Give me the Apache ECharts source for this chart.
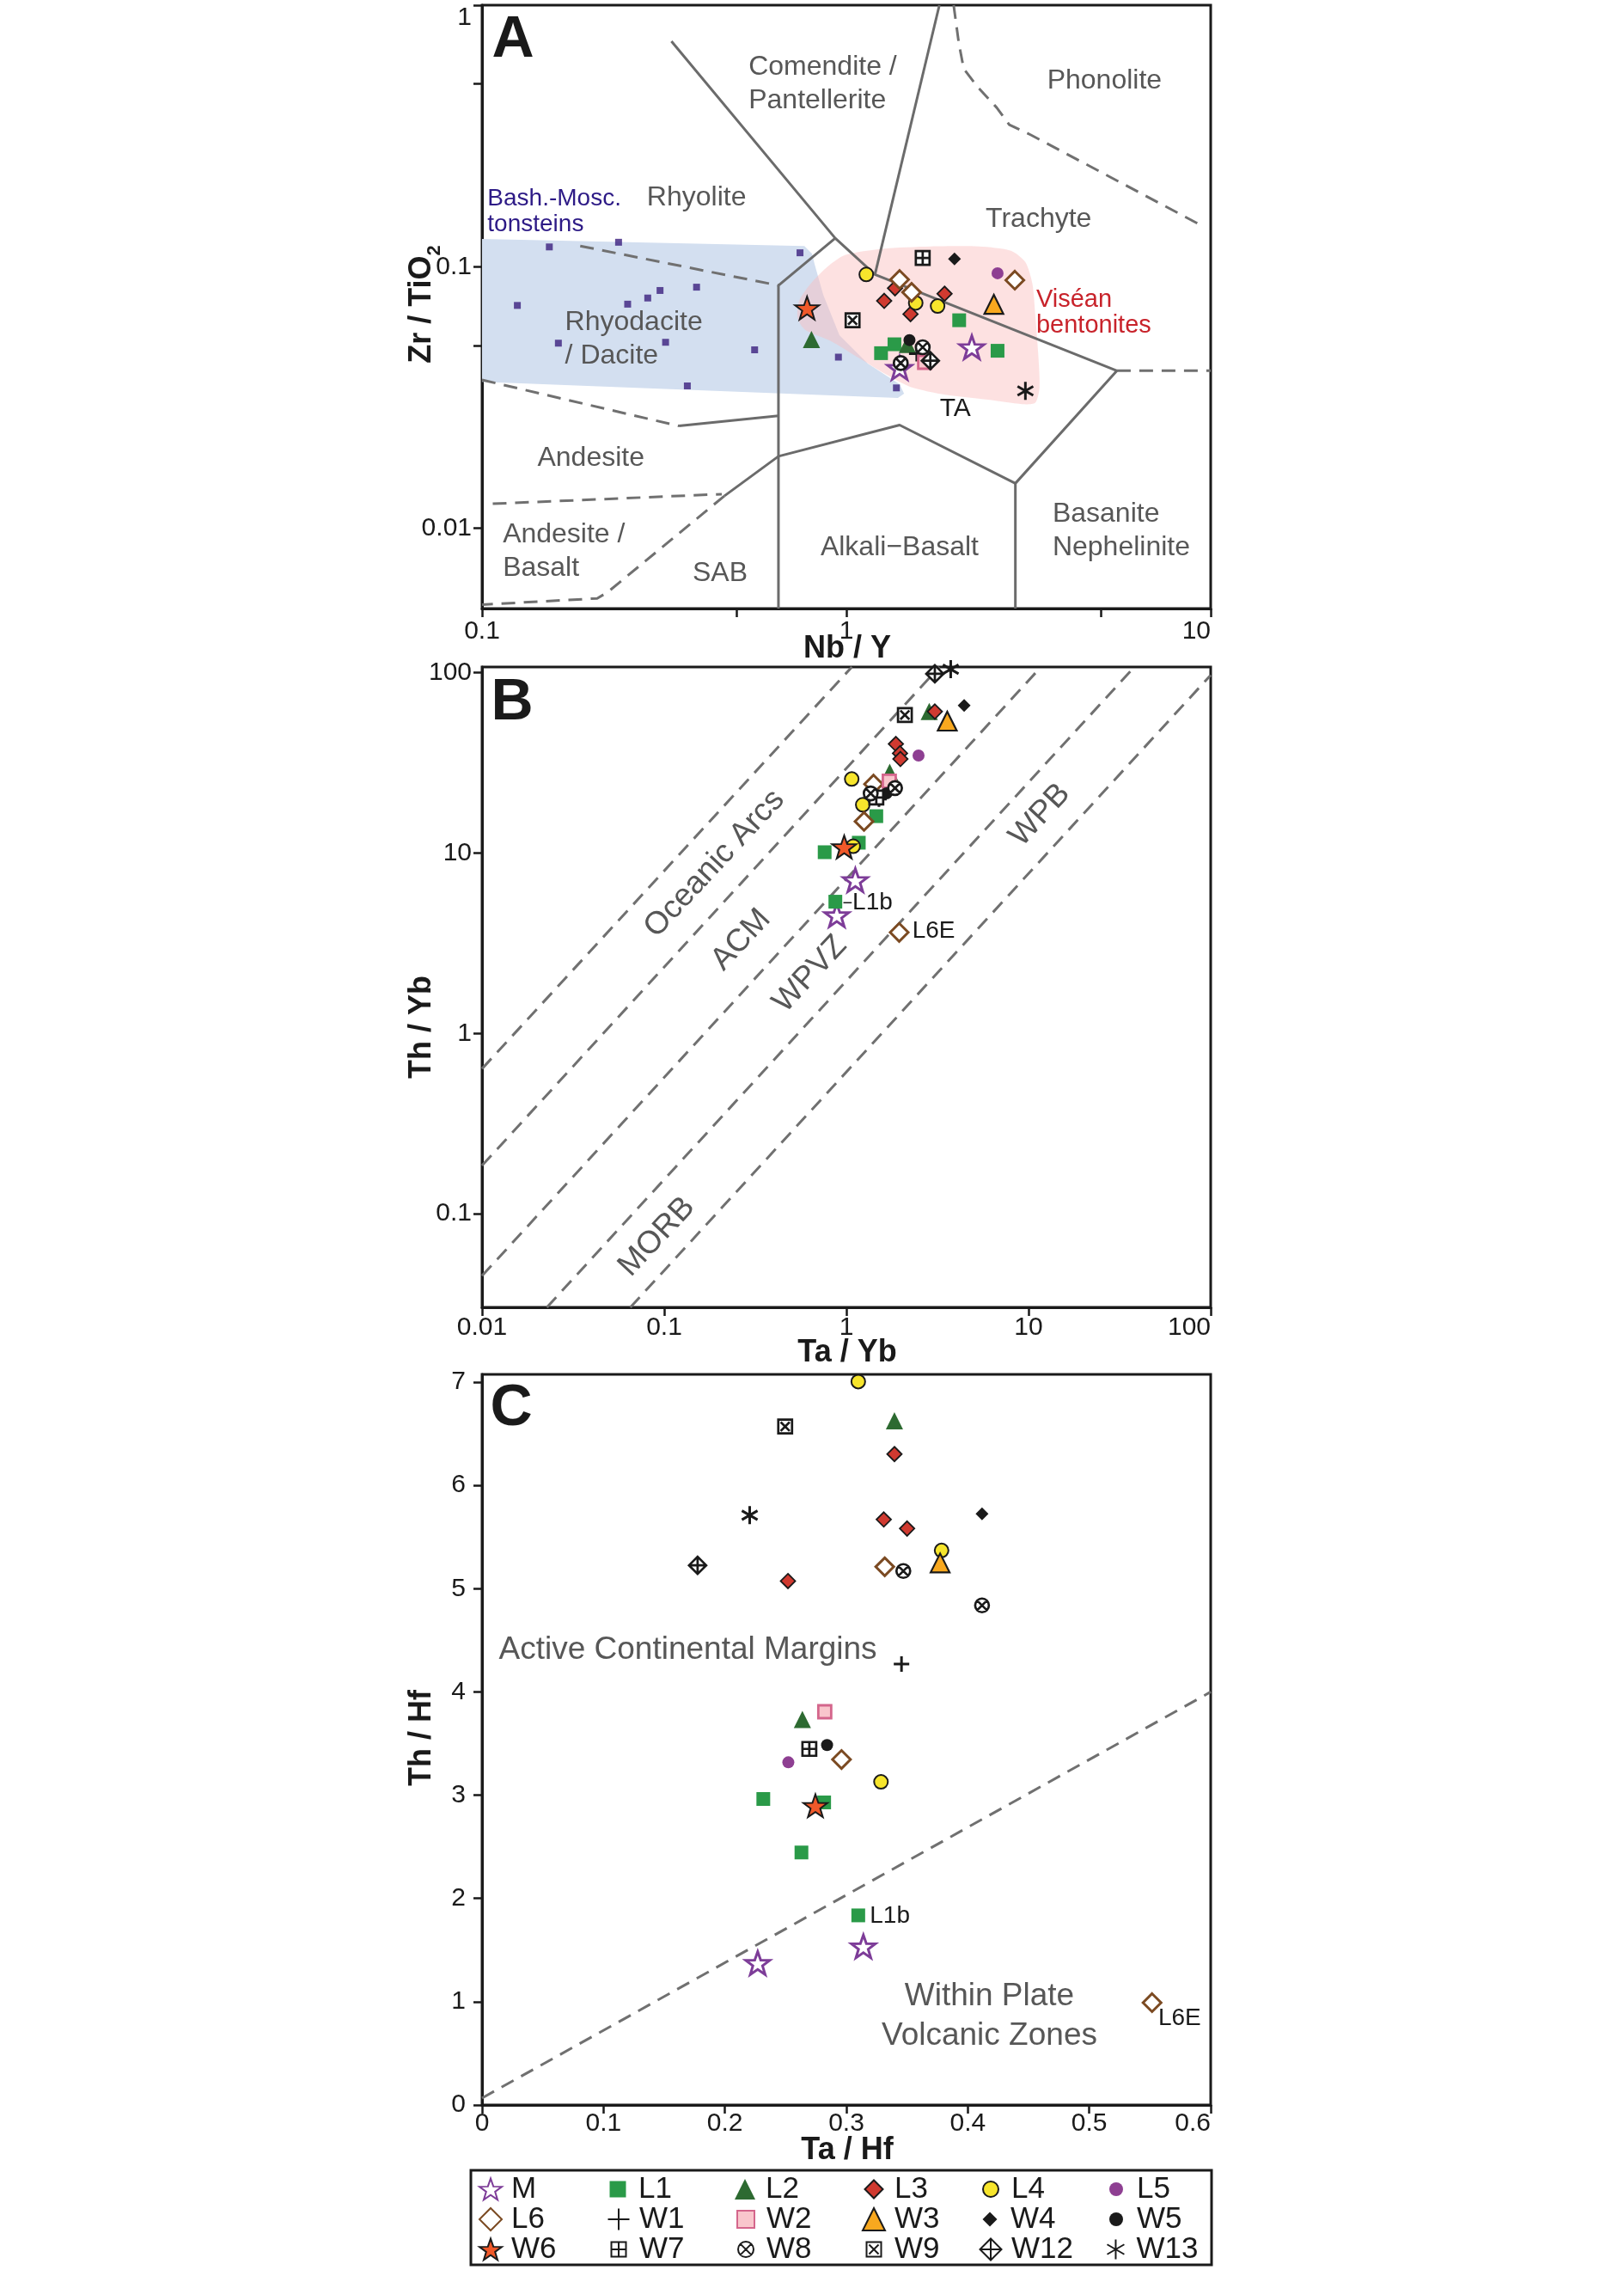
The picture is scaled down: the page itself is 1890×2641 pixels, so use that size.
<!DOCTYPE html>
<html>
<head>
<meta charset="utf-8">
<title>Nb/Y – Zr/TiO2, Ta/Yb – Th/Yb and Ta/Hf – Th/Hf diagrams</title>
<script src="https://cdn.jsdelivr.net/npm/echarts@6/dist/echarts.min.js"></script>
<style>
  html, body { margin: 0; padding: 0; background: #fff; }
  #chart { width: 1890px; height: 2641px; }
</style>
</head>
<body>
<div id="chart"></div>
<script>
// ---- sample groups, each as [panel A (Nb/Y, Zr/TiO2), panel B (Ta/Yb, Th/Yb), panel C (Ta/Hf, Th/Hf)]
const groupNames = ['M', 'L1', 'L2', 'L3', 'L4', 'L5', 'L6', 'W1', 'W2', 'W3', 'W4', 'W5', 'W6', 'W7', 'W8', 'W9', 'W12', 'W13'];

const ptsM  = [[[1.40, 0.0410], [2.21, 0.0492]], [[1.12, 7.07], [0.886, 4.52]], [[0.314, 1.535], [0.227, 1.374]]];
const ptsL1 = [[[2.04, 0.0624], [1.355, 0.0505], [1.245, 0.0467], [2.60, 0.0477]],
               [[1.46, 16.0], [1.17, 11.4], [0.76, 10.1], [0.87, 5.37]],
               [[0.2316, 2.963], [0.2817, 2.930], [0.263, 2.445], [0.3098, 1.836]]];
const ptsL2 = [[[0.802, 0.0527], [1.47, 0.0504]], [[2.85, 60.8], [1.73, 28.0]], [[0.3396, 6.626], [0.2638, 3.734]]];
const ptsL3 = [[[1.36, 0.0827], [1.27, 0.0740], [1.86, 0.0788], [1.50, 0.0659]],
               [[3.06, 60.8], [1.87, 40.2], [1.97, 35.7], [1.98, 33.2]],
               [[0.3396, 6.303], [0.3308, 5.670], [0.350, 5.582], [0.2519, 5.074]]];
const ptsL4 = [[[1.134, 0.0934], [1.55, 0.0727], [1.78, 0.0707]], [[1.07, 25.7], [1.23, 18.5], [1.09, 10.9]],
               [[0.3098, 7.005], [0.3784, 5.370], [0.3285, 3.129]]];
const ptsL5 = [[[2.60, 0.0944]], [[2.49, 34.7]], [[0.2522, 3.318]]];
const ptsL6 = [[[1.40, 0.0893], [1.51, 0.0798], [2.90, 0.0888]], [[1.41, 24.1], [1.25, 14.96], [1.95, 3.63]],
               [[0.3316, 5.212], [0.296, 3.346], [0.5517, 0.991]]];
const ptsW1  = [[[1.56, 0.0465]], [[1.51, 19.9]], [[0.3454, 4.270]]];
const ptsW2  = [[[1.64, 0.0431]], [[1.72, 25.0]], [[0.2822, 3.808]]];
const ptsW3  = [[[2.54, 0.0718]], [[3.58, 53.8]], [[0.3772, 5.249]]];
const ptsW4  = [[[1.98, 0.107]], [[4.43, 65.8]], [[0.4117, 5.725]]];
const ptsW5  = [[[1.49, 0.0524]], [[1.66, 21.4]], [[0.2841, 3.485]]];
const ptsW6  = [[[0.780, 0.0695]], [[0.973, 10.8]], [[0.2745, 2.898]]];
const ptsW7  = [[[1.62, 0.108]], [[1.46, 20.3]], [[0.2695, 3.448]]];
const ptsW8  = [[[1.62, 0.0492], [1.41, 0.0428]], [[1.85, 22.9], [1.36, 21.4]], [[0.3469, 5.171], [0.4117, 4.838]]];
const ptsW9  = [[[1.04, 0.0624]], [[2.095, 58.2]], [[0.2496, 6.570]]];
const ptsW12 = [[[1.70, 0.0437]], [[3.06, 98.5]], [[0.1775, 5.226]]];
const ptsW13 = [[[3.10, 0.0335]], [[3.74, 104.4]], [[0.2204, 5.711]]];

const groupPoints = [ptsM, ptsL1, ptsL2, ptsL3, ptsL4, ptsL5, ptsL6, ptsW1, ptsW2, ptsW3,
                     ptsW4, ptsW5, ptsW6, ptsW7, ptsW8, ptsW9, ptsW12, ptsW13];

// Bashkirian-Moscovian tonsteins (panel A only)
const tonsteinsA = [[0.153, 0.119], [0.237, 0.124], [0.746, 0.113], [0.125, 0.0711], [0.251, 0.0719],
                    [0.285, 0.0759], [0.308, 0.0811], [0.388, 0.0835], [0.162, 0.0510], [0.319, 0.0514],
                    [0.560, 0.0481], [0.951, 0.0451], [0.366, 0.0350], [1.372, 0.0344]];

// ---- field boundaries (data units)
const blueArea = [[0.1, 0.1276], [0.767, 0.120], [0.805, 0.112], [0.818, 0.1024], [0.864, 0.078], [0.957, 0.0547],
                  [1.145, 0.0426], [1.40, 0.0355], [1.44, 0.0327], [1.385, 0.0315], [0.1, 0.0363]];
const pinkArea = [[0.991, 0.1108], [1.254, 0.1171], [1.705, 0.1195], [2.319, 0.1195], [2.83, 0.1150], [3.10, 0.1040],
                  [3.24, 0.0861], [3.30, 0.0652], [3.36, 0.0470], [3.39, 0.0347], [3.30, 0.0302], [3.04, 0.0298],
                  [2.45, 0.0310], [1.87, 0.0324], [1.50, 0.0347], [1.30, 0.0384], [1.085, 0.0447], [0.906, 0.0520],
                  [0.769, 0.0575], [0.735, 0.0636], [0.742, 0.0740], [0.798, 0.0861], [0.889, 0.1002]];

const aSolid = [
  [[0.331, 0.728], [0.932, 0.1285], [1.198, 0.0933], [5.53, 0.040]],
  [[0.932, 0.1285], [0.651, 0.0848], [0.651, 0.00493]],
  [[1.80, 1.0], [1.198, 0.0933]],
  [[5.53, 0.040], [2.91, 0.01484], [2.91, 0.00493]],
  [[2.91, 0.01484], [1.40, 0.0248], [0.651, 0.01884], [0.463, 0.0133]],
  [[0.347, 0.0246], [0.651, 0.0269]]
];
const aDashed = [
  [[0.186, 0.120], [0.651, 0.0848]],
  [[5.53, 0.040], [10, 0.040]],
  [[1.97, 1.0], [2.035, 0.717], [2.10, 0.571], [2.28, 0.491], [2.585, 0.406], [2.80, 0.349], [3.21, 0.319], [9.41, 0.144]],
  [[0.1, 0.0369], [0.347, 0.0246]],
  [[0.107, 0.0124], [0.455, 0.0135]],
  [[0.463, 0.0133], [0.221, 0.00569], [0.207, 0.00539], [0.1, 0.0051]]
];
const bDashed = [
  [[0.01, 0.637], [1.072, 107.4]],
  [[0.01, 0.185], [3.24, 107.4]],
  [[0.01, 0.0453], [11.7, 107.4]],
  [[0.0227, 0.0303], [38.1, 107.4]],
  [[0.0652, 0.0303], [100, 96.8]]
];
const cDashed = [[[0, 0.067], [0.6, 4.0]]];
const bLeader = [[0.963, 5.3], [1.07, 5.3]];

// ---- tick values
const aXTicks = [0.1, 0.5, 1, 5, 10], aXLabels = [0.1, 1, 10];
const aYTicks = [0.01, 0.05, 0.1, 0.5, 1], aYLabels = [0.01, 0.1, 1];
const bXTicks = [0.01, 0.1, 1, 10, 100];
const bYTicks = [0.1, 1, 10, 100];
const cXTicks = [0, 0.1, 0.2, 0.3, 0.4, 0.5, 0.6];
const cYTicks = [0, 1, 2, 3, 4, 5, 6, 7];

// ---- field names [x, y, text, align]
const fieldsA = [
  [0.539, 0.498, 'Comendite /\nPantellerite', 'left'],
  [5.11, 0.514, 'Phonolite', 'center'],
  [0.388, 0.1835, 'Rhyolite', 'center'],
  [3.37, 0.152, 'Trachyte', 'center'],
  [0.169, 0.0526, 'Rhyodacite\n/ Dacite', 'left'],
  [0.199, 0.0185, 'Andesite', 'center'],
  [0.114, 0.00813, 'Andesite /\nBasalt', 'left'],
  [0.45, 0.00673, 'SAB', 'center'],
  [1.40, 0.0084, 'Alkali\u2212Basalt', 'center'],
  [3.68, 0.0098, 'Basanite\nNephelinite', 'left']
];
const taLabel = [[1.99, 0.0285, 'TA', 'center']];
const tonsteinLabel = [[0.1035, 0.1617, 'Bash.-Mosc.\ntonsteins', 'left']];
const bentoniteLabel = [[3.32, 0.0668, 'Vis\u00e9an\nbentonites', 'left']];
const fieldsB = [
  [0.189, 8.72, 'Oceanic Arcs'], [0.2645, 3.30, 'ACM'], [0.632, 2.13, 'WPVZ'],
  [11.56, 16.2, 'WPB'], [0.0911, 0.0745, 'MORB']
];
const tagsB = [[1.08, 5.27, 'L1b', 'left'], [2.3, 3.67, 'L6E', 'left']];
const fieldsC = [
  [0.0138, 4.405, 'Active Continental Margins', 'left'],
  [0.4178, 0.858, 'Within Plate\nVolcanic Zones', 'center']
];
const tagsC = [[0.3193, 1.827, 'L1b', 'left'], [0.5568, 0.841, 'L6E', 'left']];

// ---- legend layout (rows of the boxed key)
const legendRows = [['M', 'L1', 'L2', 'L3', 'L4', 'L5'],
                    ['L6', 'W1', 'W2', 'W3', 'W4', 'W5'],
                    ['W6', 'W7', 'W8', 'W9', 'W12', 'W13']];

// ---- styles
const FONT = '"Liberation Sans", Arial, Helvetica, sans-serif';
const INK = '#1a1a1a';
const GREY = '#575757';

const STAR = 'path://M50,0L61.76,33.82L97.55,34.55L69.02,56.18L79.39,90.45L50,70L20.61,90.45L30.98,56.18L2.45,34.55L38.24,33.82Z';
const SQ_PLUS = 'path://M0,0H20V20H0Z M10,0V20 M0,10H20';
const SQ_X = 'path://M0,0H20V20H0Z M3.5,3.5L16.5,16.5 M16.5,3.5L3.5,16.5';
const CIRC_X = 'path://M0,10A10,10 0 1,1 20,10A10,10 0 1,1 0,10Z M2.93,2.93L17.07,17.07 M17.07,2.93L2.93,17.07';
const DIA_PLUS = 'path://M10,0L20,10L10,20L0,10Z M10,0V20 M0,10H20';
const PLUS = 'path://M10,0V20 M0,10H20';
const ASTER = 'path://M10,0V20 M1.34,5L18.66,15 M1.34,15L18.66,5';
const NOFILL = 'rgba(0,0,0,0)';

const groupStyle = {
  M:   { symbol: STAR, size: 28, leg: 26, color: '#fff', border: '#7d3c98', bw: 3 },
  L1:  { symbol: 'rect', size: 16, leg: 19, color: '#2a9a48' },
  L2:  { symbol: 'triangle', size: 20, leg: 24, color: '#2d6a31' },
  L3:  { symbol: 'diamond', size: 17, leg: 21, color: '#d03a30', border: INK, bw: 1.8 },
  L4:  { symbol: 'circle', size: 16, leg: 18, color: '#f7e52c', border: INK, bw: 2 },
  L5:  { symbol: 'circle', size: 14, leg: 16, color: '#8e3f92' },
  L6:  { symbol: 'diamond', size: 21, leg: 26, color: '#fff', border: '#7b4a22', bw: 3 },
  W1:  { symbol: PLUS, size: 18, leg: 25, color: NOFILL, border: INK, bw: 3 },
  W2:  { symbol: 'rect', size: 15, leg: 20, color: '#f9c6cc', border: '#d4668c', bw: 2.8 },
  W3:  { symbol: 'triangle', size: 22, leg: 26, color: '#f8a81f', border: INK, bw: 2.2 },
  W4:  { symbol: 'diamond', size: 15, leg: 17, color: INK },
  W5:  { symbol: 'circle', size: 14, leg: 16, color: INK },
  W6:  { symbol: STAR, size: 28, leg: 26, color: '#f0592a', border: INK, bw: 2 },
  W7:  { symbol: SQ_PLUS, size: 16, leg: 17, color: '#fff', border: INK, bw: 2.7 },
  W8:  { symbol: CIRC_X, size: 16, leg: 18, color: '#fff', border: INK, bw: 2.7 },
  W9:  { symbol: SQ_X, size: 16, leg: 17, color: '#fff', border: INK, bw: 2.7 },
  W12: { symbol: DIA_PLUS, size: 20, leg: 25, color: '#fff', border: INK, bw: 2.7 },
  W13: { symbol: ASTER, size: 21, leg: 23, color: NOFILL, border: INK, bw: 3 }
};

const chart = echarts.init(document.getElementById('chart'), null, { renderer: 'canvas' });

function lineSeries(panel, pts, dashed) {
  return {
    type: 'line', xAxisIndex: panel, yAxisIndex: panel, data: pts,
    showSymbol: false, symbol: 'none', silent: true, z: 2,
    lineStyle: dashed ? { color: '#707070', width: 3, type: [16, 10] } : { color: '#6b6b6b', width: 3 }
  };
}

function polygonSeries(panel, pts, fill, smooth) {
  return {
    type: 'custom', xAxisIndex: panel, yAxisIndex: panel, silent: true, z: 1, clip: true,
    data: [pts[0]],
    renderItem: function (params, api) {
      return {
        type: 'polygon',
        shape: { points: pts.map(function (p) { return api.coord(p); }), smooth: smooth },
        style: { fill: fill }
      };
    }
  };
}

function textSeries(panel, items, st) {
  return {
    type: 'custom', xAxisIndex: panel, yAxisIndex: panel, silent: true, z: 3, clip: false,
    data: items.map(function (it) { return [it[0], it[1]]; }),
    renderItem: function (params, api) {
      const it = items[params.dataIndex];
      const p = api.coord([it[0], it[1]]);
      const align = it[3] || 'center';
      return {
        type: 'text', x: p[0], y: p[1], rotation: (st.rotate || 0) * Math.PI / 180,
        style: {
          text: it[2], fill: st.color, fontSize: st.size, fontFamily: FONT,
          align: align, textAlign: align, verticalAlign: 'middle', textVerticalAlign: 'middle',
          lineHeight: st.lineHeight || st.size
        }
      };
    }
  };
}

function scatterSeries(name, panel, data) {
  const s = groupStyle[name];
  return {
    type: 'scatter', name: name, xAxisIndex: panel, yAxisIndex: panel, data: data,
    symbol: s.symbol, symbolSize: s.size, symbolKeepAspect: true, z: 4,
    itemStyle: { color: s.color, borderColor: s.border || s.color, borderWidth: s.bw || 0, opacity: 1 },
    emphasis: { disabled: true }
  };
}

const series = [];
series.push(polygonSeries(0, blueArea, '#d3dff0', 0));
series.push(polygonSeries(0, pinkArea, 'rgba(250,189,189,0.45)', 0.25));
aSolid.forEach(function (l) { series.push(lineSeries(0, l, false)); });
aDashed.forEach(function (l) { series.push(lineSeries(0, l, true)); });
bDashed.forEach(function (l) { series.push(lineSeries(1, l, true)); });
cDashed.forEach(function (l) { series.push(lineSeries(2, l, true)); });
series.push({
  type: 'line', xAxisIndex: 1, yAxisIndex: 1, data: bLeader, showSymbol: false, symbol: 'none',
  silent: true, z: 3, lineStyle: { color: INK, width: 1.5 }
});
series.push({
  type: 'scatter', xAxisIndex: 0, yAxisIndex: 0, data: tonsteinsA, symbol: 'rect', symbolSize: 8,
  silent: true, z: 3, itemStyle: { color: '#3b1f7e' }
});

series.push(textSeries(0, fieldsA, { color: GREY, size: 32, lineHeight: 39 }));
series.push(textSeries(0, taLabel, { color: INK, size: 30 }));
series.push(textSeries(0, tonsteinLabel, { color: '#2d1a86', size: 28, lineHeight: 30 }));
series.push(textSeries(0, bentoniteLabel, { color: '#c8232b', size: 29, lineHeight: 30 }));
series.push(textSeries(1, fieldsB, { color: GREY, size: 37, rotate: 47 }));
series.push(textSeries(1, tagsB, { color: INK, size: 28 }));
series.push(textSeries(2, fieldsC, { color: GREY, size: 37, lineHeight: 46 }));
series.push(textSeries(2, tagsC, { color: INK, size: 28 }));

groupNames.forEach(function (name, gi) {
  groupPoints[gi].forEach(function (pts, panel) {
    if (pts.length) series.push(scatterSeries(name, panel, pts));
  });
});

function xAxis(grid, type, min, max, ticks, labels, margin) {
  return {
    gridIndex: grid, type: type, min: min, max: max, logBase: 10,
    axisLine: { onZero: false, lineStyle: { color: INK, width: 3 } },
    axisTick: { show: true, inside: false, length: 10, customValues: ticks, lineStyle: { color: INK, width: 2.5 } },
    axisLabel: { customValues: labels, margin: margin, fontSize: 30, color: INK, fontFamily: FONT, alignMaxLabel: 'right' },
    splitLine: { show: false }, minorTick: { show: false }
  };
}

function yAxis(grid, type, min, max, ticks, labels, margin, extra) {
  const ax = {
    gridIndex: grid, type: type, min: min, max: max, logBase: 10,
    axisLine: { onZero: false, lineStyle: { color: INK, width: 3 } },
    axisTick: { show: true, inside: false, length: 10, customValues: ticks, lineStyle: { color: INK, width: 2.5 } },
    axisLabel: { customValues: labels, margin: margin, fontSize: 30, color: INK, fontFamily: FONT },
    splitLine: { show: false }, minorTick: { show: false }
  };
  if (extra) Object.assign(ax.axisLabel, extra);
  return ax;
}

const gridBase = { show: true, borderColor: INK, borderWidth: 3, containLabel: false, outerBoundsMode: 'none' };

const legends = [];
legendRows.forEach(function (row, r) {
  const rowY = [2547, 2582, 2617][r];
  row.forEach(function (name, c) {
    const cx = [570, 719, 867, 1016, 1152, 1299][c];
    const s = groupStyle[name].leg;
    legends.push({
      data: [name], orient: 'horizontal', left: cx - s / 2, top: rowY - 18, padding: 0,
      itemWidth: s, itemHeight: s, selectedMode: false,
      textStyle: { fontSize: 35, lineHeight: 36, color: INK, fontFamily: FONT, padding: [0, 0, 0, Math.max(0, 19 - s / 2)] }
    });
  });
});

function axisTitle(text, x, y, vertical, rich) {
  return {
    type: 'text', x: x, y: y, rotation: vertical ? Math.PI / 2 : 0, silent: true,
    style: {
      text: text, fill: INK, fontSize: 36, fontWeight: 'bold', fontFamily: FONT,
      align: 'center', textAlign: 'center', verticalAlign: 'middle', textVerticalAlign: 'middle',
      rich: rich
    }
  };
}

function panelLetter(text, x, y) {
  return {
    type: 'text', x: x, y: y, silent: true,
    style: {
      text: text, fill: INK, fontSize: 68, fontWeight: 'bold', fontFamily: FONT,
      align: 'center', textAlign: 'center', verticalAlign: 'middle', textVerticalAlign: 'middle'
    }
  };
}

const option = {
  animation: false,
  backgroundColor: '#ffffff',
  textStyle: { fontFamily: FONT },
  grid: [
    Object.assign({ left: 561, top: 6, width: 848, height: 702 }, gridBase),
    Object.assign({ left: 561, top: 776, width: 848, height: 745 }, gridBase),
    Object.assign({ left: 561, top: 1599, width: 848, height: 850 }, gridBase)
  ],
  xAxis: [
    xAxis(0, 'log', 0.1, 10, aXTicks, aXLabels, 12),
    xAxis(1, 'log', 0.01, 100, bXTicks, bXTicks, 9),
    xAxis(2, 'value', 0, 0.6, cXTicks, cXTicks, 7)
  ],
  yAxis: [
    yAxis(0, 'log', 0.00493, 1, aYTicks, aYLabels, 12, { verticalAlignMaxLabel: 'top' }),
    yAxis(1, 'log', 0.0303, 107.4, bYTicks, bYTicks, 12),
    yAxis(2, 'value', 0, 7.075, cYTicks, cYTicks, 19)
  ],
  legend: legends,
  graphic: {
    elements: [
      {
        type: 'rect', silent: true, z: 10,
        shape: { x: 548, y: 2525, width: 862, height: 110 },
        style: { fill: NOFILL, stroke: INK, lineWidth: 3 }
      },
      axisTitle('Nb / Y', 986, 755, false),
      axisTitle('Ta / Yb', 986, 1574, false),
      axisTitle('Ta / Hf', 986, 2502, false),
      axisTitle('Zr / TiO{s|2}', 491, 354, true, {
        s: { fontSize: 22, fontWeight: 'bold', fontFamily: FONT, fill: INK, padding: [30, 0, 0, 0] }
      }),
      axisTitle('Th / Yb', 491, 1195, true),
      axisTitle('Th / Hf', 491, 2022, true),
      panelLetter('A', 597, 47),
      panelLetter('B', 596, 818),
      panelLetter('C', 595, 1639)
    ]
  },
  series: series
};

chart.setOption(option);
</script>
</body>
</html>
